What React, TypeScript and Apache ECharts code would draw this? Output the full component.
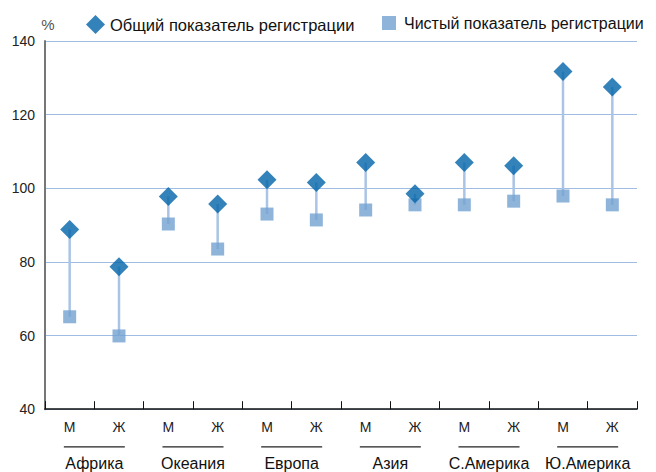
import React, { useEffect, useRef } from "react";
import * as echarts from "echarts";

const sexLabels = ["М", "Ж", "М", "Ж", "М", "Ж", "М", "Ж", "М", "Ж", "М", "Ж"];
const regions = ["Африка", "Океания", "Европа", "Азия", "С.Америка", "Ю.Америка"];
const grossRate = [88.8, 78.7, 97.8, 95.7, 102.3, 101.6, 107.0, 98.5, 107.0, 106.1, 131.7, 127.5];
const netRate = [65.1, 59.9, 90.3, 83.5, 93.0, 91.4, 94.1, 95.5, 95.5, 96.5, 97.9, 95.5];
const seriesNames = ["Общий показатель регистрации", "Чистый показатель регистрации"];
const yTicks = { min: 40, max: 140, interval: 20 };

const FONT = "'Liberation Sans', Arial, sans-serif";

export default function App() {
  const ref = useRef<HTMLDivElement>(null);
  useEffect(() => {
    if (!ref.current) return;
    const chart = echarts.init(ref.current, null, { renderer: "svg" });
    const rangeData = grossRate.map((g, i) => [i, g, netRate[i]]);
    chart.setOption({
      animation: false,
      textStyle: { fontFamily: FONT },
      legend: [
        {
          data: [{ name: seriesNames[0], icon: "diamond" }],
          left: 81,
          top: 10,
          itemWidth: 19,
          itemHeight: 19,
          textStyle: { fontFamily: FONT, fontSize: 16.5, color: "#111" },
          selectedMode: false,
        },
        {
          data: [{ name: seriesNames[1], icon: "rect" }],
          left: 377,
          top: 10,
          itemWidth: 14,
          itemHeight: 14,
          textStyle: { fontFamily: FONT, fontSize: 16, color: "#111", padding: [0, 0, 0, 3] },
          selectedMode: false,
        },
      ],
      grid: { left: 45, right: 19, top: 41, bottom: 62, containLabel: false },
      xAxis: [
        {
          type: "category",
          data: sexLabels,
          position: "bottom",
          boundaryGap: true,
          axisLine: { show: true, lineStyle: { color: "#111", width: 1.5 } },
          axisTick: { show: true, inside: true, length: 8, lineStyle: { color: "#111", width: 1 } },
          axisLabel: { fontFamily: FONT, fontSize: 14, color: "#222", margin: 11, interval: 0 },
          splitLine: { show: false },
        },
        {
          type: "category",
          data: regions,
          position: "bottom",
          boundaryGap: true,
          axisLine: { show: false },
          axisTick: { show: false },
          splitLine: { show: false },
          axisLabel: {
            interval: 0,
            margin: 37,
            formatter: (v: string) => `{l|}\n{n|${v}}`,
            rich: {
              l: { width: 61, height: 1.3, lineHeight: 1.3, backgroundColor: "#222" },
              n: { fontFamily: FONT, fontSize: 16, lineHeight: 33, color: "#111" },
            },
          },
        },
      ],
      yAxis: {
        type: "value",
        min: yTicks.min,
        max: yTicks.max,
        interval: yTicks.interval,
        name: "%",
        nameLocation: "end",
        nameGap: 9,
        nameTextStyle: { fontFamily: FONT, fontSize: 15, color: "#555", padding: [0, 0, 0, 6] },
        axisLine: { show: true, lineStyle: { color: "#777", width: 2 } },
        axisTick: { show: false },
        axisLabel: { fontFamily: FONT, fontSize: 14, color: "#222", margin: 10 },
        splitLine: { show: true, lineStyle: { color: "#9fbce3", width: 1 } },
      },
      series: [
        {
          type: "custom",
          name: "range",
          xAxisIndex: 0,
          data: rangeData,
          encode: { x: 0, y: [1, 2] },
          z: 1,
          silent: true,
          renderItem: (params: any, api: any) => {
            const p1 = api.coord([api.value(0), api.value(1)]);
            const p2 = api.coord([api.value(0), api.value(2)]);
            return {
              type: "line",
              shape: { x1: p1[0], y1: p1[1], x2: p2[0], y2: p2[1] },
              style: { stroke: "#a9c4e4", lineWidth: 2.5 },
            };
          },
        },
        {
          type: "scatter",
          name: seriesNames[1],
          xAxisIndex: 0,
          data: netRate,
          symbol: "rect",
          symbolSize: 13,
          itemStyle: { color: "#73a1d1" },
          z: 2,
        },
        {
          type: "scatter",
          name: seriesNames[0],
          xAxisIndex: 0,
          data: grossRate,
          symbol: "diamond",
          symbolSize: 19,
          itemStyle: { color: "#0064a9" },
          z: 3,
        },
      ],
    });
    return () => chart.dispose();
  }, []);
  return <div ref={ref} style={{ width: 656, height: 472, position: "absolute", left: 0, top: 0 }} />;
}
